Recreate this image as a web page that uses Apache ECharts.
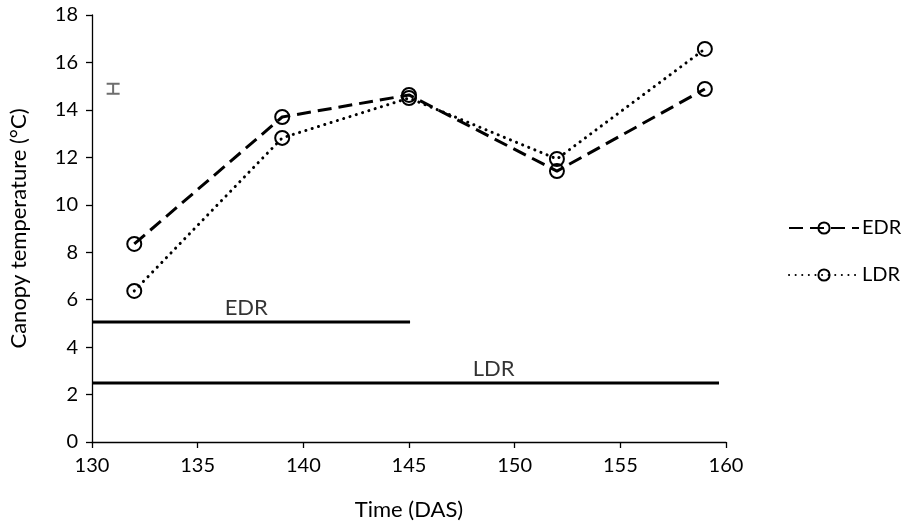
<!DOCTYPE html>
<html>
<head>
<meta charset="utf-8">
<script src="https://cdn.jsdelivr.net/npm/echarts@6/dist/echarts.min.js"></script>
<style>
  html, body { margin: 0; padding: 0; background: #fff; }
  #chart { width: 903px; height: 528px; }
</style>
</head>
<body>
<div id="chart"></div>
<script>
// Canopy temperature by sampling date (days after sowing)
const days = [132, 139, 145, 152, 159];
const edrTemp = [8.35, 13.7, 14.63, 11.42, 14.88];
const ldrTemp = [6.37, 12.82, 14.5, 11.93, 16.57];

// Treatment periods drawn as horizontal bars
const edrPeriod = { start: 130, end: 145.05, level: 5.06, labelAt: 137.3 };
const ldrPeriod = { start: 130, end: 159.67, level: 2.49, labelAt: 149.0 };

// Pooled error bar (day, low, high)
const errorBar = [[131, 14.68, 15.1]];

const xTicks = { min: 130, max: 160, interval: 5 };
const yTicks = { min: 0, max: 18, interval: 2 };

const font = 'Lato, "Open Sans", sans-serif';
const pair = (xs, ys) => xs.map((x, i) => [x, ys[i]]);

const markerStyle = { color: 'rgba(255,255,255,0)', borderColor: '#000', borderWidth: 2 };

const chart = echarts.init(document.getElementById('chart'));
chart.setOption({
  animation: false,
  backgroundColor: '#fff',
  grid: { left: 90, right: 177, top: 15, bottom: 86 },
  legend: {
    data: ['EDR', 'LDR'],
    orient: 'vertical',
    left: 783,
    top: 213,
    itemWidth: 70,
    itemHeight: 14,
    itemGap: 27,
    textStyle: { fontFamily: font, fontSize: 20, color: '#000', padding: [0, 0, 0, -2] }
  },
  xAxis: {
    type: 'value',
    min: xTicks.min, max: xTicks.max, interval: xTicks.interval,
    name: 'Time (DAS)',
    nameLocation: 'middle',
    nameGap: 57,
    nameTextStyle: { fontFamily: font, fontSize: 22, color: '#000' },
    axisLine: { lineStyle: { color: '#000', width: 1.3 } },
    axisTick: { show: true, length: 6, lineStyle: { color: '#000', width: 1.3 } },
    axisLabel: { fontFamily: font, fontSize: 20, color: '#000', margin: 14 },
    splitLine: { show: false }
  },
  yAxis: {
    type: 'value',
    min: yTicks.min, max: yTicks.max, interval: yTicks.interval,
    name: 'Canopy temperature (°C)',
    nameLocation: 'middle',
    nameGap: 62,
    nameTextStyle: { fontFamily: font, fontSize: 22, color: '#000' },
    axisLine: { show: true, lineStyle: { color: '#000', width: 1.3 } },
    axisTick: { show: true, length: 6, lineStyle: { color: '#000', width: 1.3 } },
    axisLabel: { fontFamily: font, fontSize: 20, color: '#000', margin: 14 },
    splitLine: { show: false }
  },
  series: [
    {
      name: 'EDR period',
      type: 'line',
      data: [[edrPeriod.start, edrPeriod.level], [edrPeriod.end, edrPeriod.level]],
      symbol: 'none',
      lineStyle: { color: '#000', width: 3 },
      silent: true
    },
    {
      name: 'LDR period',
      type: 'line',
      data: [[ldrPeriod.start, ldrPeriod.level], [ldrPeriod.end, ldrPeriod.level]],
      symbol: 'none',
      lineStyle: { color: '#000', width: 3 },
      silent: true
    },
    {
      name: 'period labels',
      type: 'scatter',
      symbolSize: 0,
      silent: true,
      itemStyle: { color: '#000' },
      data: [
        { value: [edrPeriod.labelAt, edrPeriod.level], label: { formatter: 'EDR' } },
        { value: [ldrPeriod.labelAt, ldrPeriod.level], label: { formatter: 'LDR' } }
      ],
      label: {
        show: true, position: 'top', distance: 3,
        fontFamily: font, fontSize: 22, color: '#000'
      }
    },
    {
      name: 'error',
      type: 'custom',
      silent: true,
      data: errorBar,
      renderItem: function (params, api) {
        const lo = api.coord([api.value(0), api.value(1)]);
        const hi = api.coord([api.value(0), api.value(2)]);
        const hw = 6.5;
        const style = { stroke: '#6e6e6e', lineWidth: 2, fill: null };
        return {
          type: 'polyline',
          shape: {
            points: [
              [hi[0] - hw, hi[1]], [hi[0] + hw, hi[1]], [hi[0], hi[1]],
              [lo[0], lo[1]], [lo[0] - hw, lo[1]], [lo[0] + hw, lo[1]]
            ]
          },
          style
        };
      }
    },
    {
      name: 'EDR',
      type: 'line',
      data: pair(days, edrTemp),
      symbol: 'circle',
      symbolSize: 14,
      showAllSymbol: true,
      color: '#000',
      lineStyle: { color: '#000', width: 3, type: [14, 7] },
      itemStyle: markerStyle
    },
    {
      name: 'LDR',
      type: 'line',
      data: pair(days, ldrTemp),
      symbol: 'circle',
      symbolSize: 14,
      showAllSymbol: true,
      color: '#000',
      lineStyle: { color: '#000', width: 3, type: [0.1, 6.5], cap: 'round' },
      itemStyle: markerStyle
    }
  ]
});
</script>
</body>
</html>
